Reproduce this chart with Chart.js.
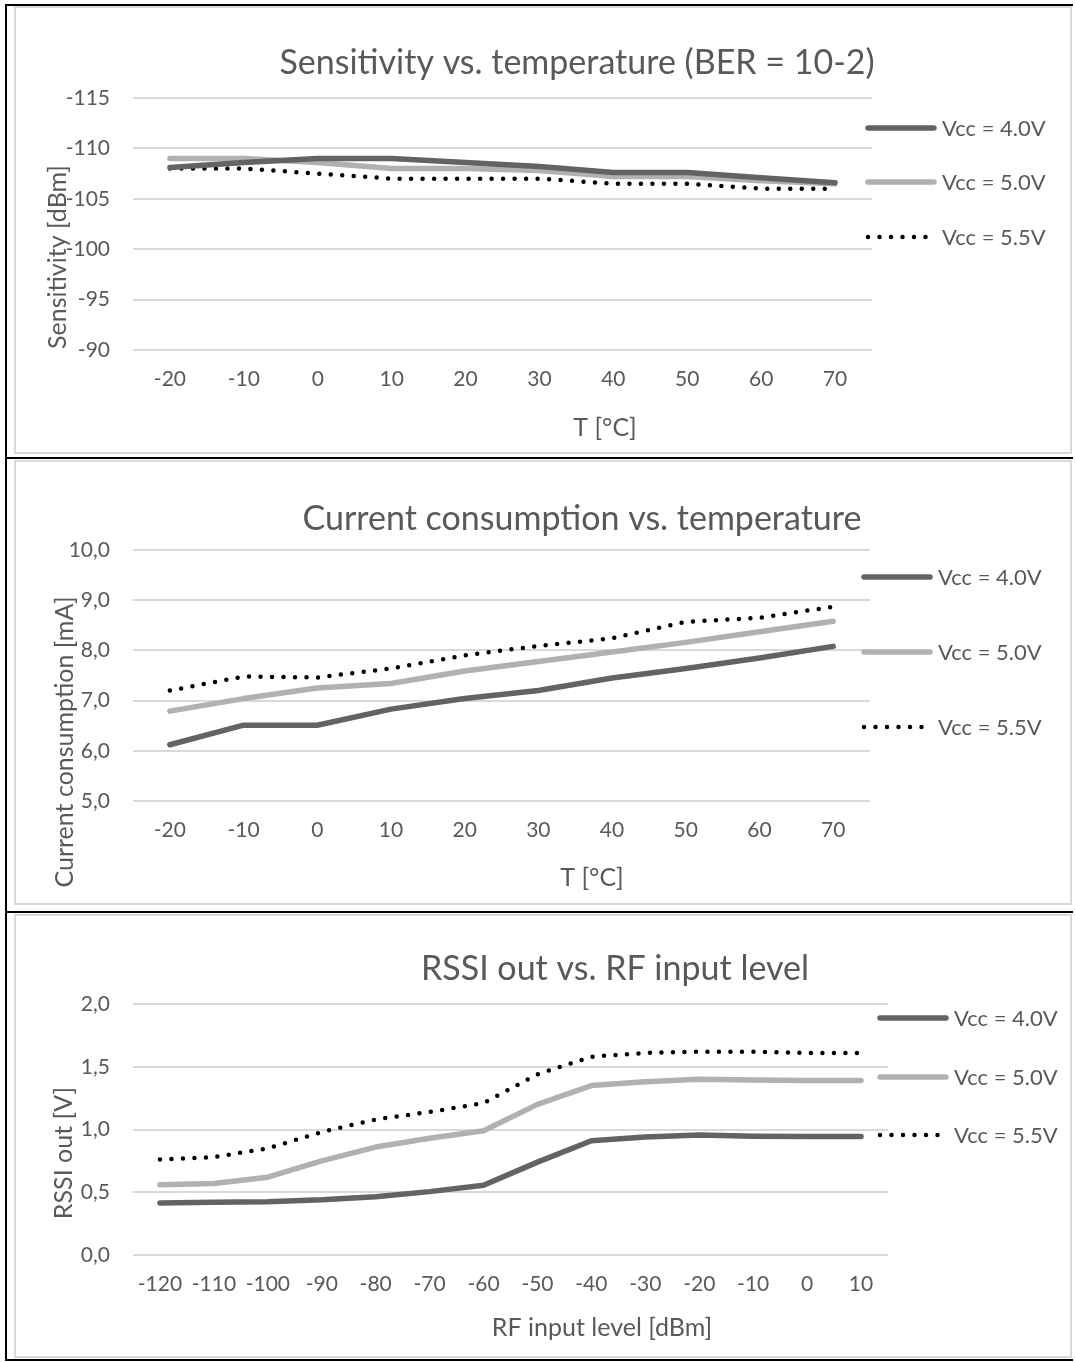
<!DOCTYPE html>
<html>
<head>
<meta charset="utf-8">
<script src="https://cdn.jsdelivr.net/npm/chart.js@4.4.1/dist/chart.umd.min.js"></script>
<style>
  body { margin: 0; background: #fff; }
  .rule { position: absolute; background: #000; }
  .panel { position: absolute; left: 14px; width: 1058px; border: 2px solid #d9d9d9; box-sizing: border-box; }
  canvas { position: absolute; left: 0; }
</style>
</head>
<body>
<div class="rule" style="left:5px;top:4px;width:2px;height:1357px"></div>
<div class="rule" style="left:5px;top:4px;width:1068px;height:2px"></div>
<div class="rule" style="left:5px;top:457px;width:1068px;height:2px"></div>
<div class="rule" style="left:5px;top:911px;width:1068px;height:2px"></div>
<div class="rule" style="left:5px;top:1359px;width:1068px;height:2px"></div>
<div class="panel" style="top:6px;height:448px"></div>
<div class="panel" style="top:460px;height:445px"></div>
<div class="panel" style="top:914px;height:444px"></div>
<canvas id="sensChart" width="1075" height="448" style="top:6px"></canvas>
<canvas id="currChart" width="1075" height="445" style="top:460px"></canvas>
<canvas id="rssiChart" width="1075" height="444" style="top:914px"></canvas>
<script>
// data
const tempLabels = [-20, -10, 0, 10, 20, 30, 40, 50, 60, 70];
const sensVcc40 = [-108.1, -108.6, -109.0, -109.0, -108.6, -108.2, -107.6, -107.6, -107.1, -106.6];
const sensVcc50 = [-109.0, -109.0, -108.6, -108.0, -108.0, -107.8, -107.2, -107.2, -106.8, -106.5];
const sensVcc55 = [-108.0, -108.0, -107.5, -107.0, -107.0, -107.0, -106.5, -106.5, -106.0, -106.0];

const currVcc40 = [6.12, 6.51, 6.51, 6.83, 7.04, 7.2, 7.45, 7.64, 7.85, 8.08];
const currVcc50 = [6.79, 7.04, 7.25, 7.34, 7.59, 7.78, 7.97, 8.16, 8.37, 8.58];
const currVcc55 = [7.2, 7.48, 7.46, 7.64, 7.9, 8.09, 8.24, 8.57, 8.65, 8.87];

const rfLabels = [-120, -110, -100, -90, -80, -70, -60, -50, -40, -30, -20, -10, 0, 10];
const rssiVcc40 = [0.415, 0.42, 0.425, 0.44, 0.465, 0.505, 0.555, 0.74, 0.91, 0.94, 0.957, 0.947, 0.945, 0.945];
const rssiVcc50 = [0.56, 0.57, 0.62, 0.75, 0.86, 0.93, 0.99, 1.2, 1.35, 1.38, 1.40, 1.395, 1.39, 1.39];
const rssiVcc55 = [0.76, 0.78, 0.85, 0.98, 1.08, 1.14, 1.21, 1.44, 1.58, 1.61, 1.62, 1.62, 1.61, 1.61];

const seriesNames = ['Vcc = 4.0V', 'Vcc = 5.0V', 'Vcc = 5.5V'];

const TEXT = '#595959';
const FONT = 'Lato';
const DARK = '#636363';
const LIGHT = '#b1b1b1';

// titles, axis titles and legend, drawn the way Excel placed them
const decor = {
  id: 'decor',
  afterDraw(chart, args, o) {
    const ctx = chart.ctx;
    ctx.save();
    ctx.fillStyle = TEXT;
    ctx.textBaseline = 'middle';
    ctx.textAlign = 'center';
    ctx.font = o.titleSize + 'px ' + FONT;
    ctx.fillText(o.title, o.titleX, o.titleY);
    ctx.font = '25px ' + FONT;
    ctx.fillText(o.xTitle, o.xTitleX, o.xTitleY);
    ctx.save();
    ctx.translate(o.yTitleX, o.yTitleY);
    ctx.rotate(-Math.PI / 2);
    ctx.fillText(o.yTitle, 0, 0);
    ctx.restore();

    ctx.font = '22px ' + FONT;
    ctx.textAlign = 'left';
    chart.data.datasets.forEach((ds, i) => {
      const y = o.legendY[i];
      ctx.strokeStyle = ds.borderColor;
      ctx.lineWidth = ds.borderWidth;
      ctx.lineCap = 'round';
      ctx.setLineDash(ds.borderDash || []);
      ctx.beginPath();
      ctx.moveTo(o.legendX + 2, y);
      ctx.lineTo(o.legendX + 68, y);
      ctx.stroke();
      ctx.setLineDash([]);
      ctx.fillText(ds.label, o.legendX + 76, y + 1);
    });
    ctx.restore();
  }
};

function makeSets(a, b, c) {
  return [
    { label: seriesNames[0], data: a, borderColor: DARK, borderWidth: 5.5 },
    { label: seriesNames[1], data: b, borderColor: LIGHT, borderWidth: 5.5 },
    { label: seriesNames[2], data: c, borderColor: '#000', borderWidth: 4.5, borderDash: [0, 11.5] }
  ];
}

function comma(v) {
  return v.toFixed(1).replace('.', ',');
}

function buildChart(id, labels, sets, y, lay, deco) {
  new Chart(document.getElementById(id), {
    type: 'line',
    data: { labels: labels, datasets: sets },
    options: {
      responsive: false,
      animation: false,
      layout: { padding: { top: lay.top, right: lay.right, left: 0, bottom: 0 } },
      elements: {
        line: { tension: 0, borderCapStyle: 'round', borderJoinStyle: 'round' },
        point: { radius: 0 }
      },
      scales: {
        x: {
          offset: true,
          grid: { display: false, drawTicks: false },
          border: { display: false },
          ticks: { color: TEXT, font: { family: FONT, size: 21 }, padding: 17, maxRotation: 0, autoSkip: false },
          afterFit(s) { s.height = lay.xHeight; }
        },
        y: {
          min: y.min, max: y.max, reverse: y.reverse,
          grid: { color: '#d9d9d9', lineWidth: 2, drawTicks: false },
          border: { display: false },
          ticks: { stepSize: y.step, color: TEXT, font: { family: FONT, size: 21 }, padding: 23, callback: y.fmt },
          afterFit(s) { s.width = 133; }
        }
      },
      plugins: {
        legend: { display: false },
        tooltip: { enabled: false },
        decor: deco
      }
    },
    plugins: [decor]
  });
}

buildChart('sensChart', tempLabels, makeSets(sensVcc40, sensVcc50, sensVcc55),
  { min: -115, max: -90, step: 5, reverse: true, fmt: v => String(v) },
  { top: 92, right: 203, xHeight: 104 },
  { title: 'Sensitivity vs. temperature (BER = 10-2)', titleSize: 34, titleX: 577, titleY: 57,
    xTitle: 'T [°C]', xTitleX: 605, xTitleY: 422,
    yTitle: 'Sensitivity [dBm]', yTitleX: 58, yTitleY: 251,
    legendX: 866, legendY: [122, 176, 231] });

buildChart('currChart', tempLabels, makeSets(currVcc40, currVcc50, currVcc55),
  { min: 5, max: 10, step: 1, reverse: false, fmt: v => comma(v) },
  { top: 90, right: 205, xHeight: 104 },
  { title: 'Current consumption vs. temperature', titleSize: 34, titleX: 582, titleY: 59,
    xTitle: 'T [°C]', xTitleX: 592, xTitleY: 418,
    yTitle: 'Current consumption [mA]', yTitleX: 65, yTitleY: 282,
    legendX: 862, legendY: [117, 192, 267] });

buildChart('rssiChart', rfLabels, makeSets(rssiVcc40, rssiVcc50, rssiVcc55),
  { min: 0, max: 2, step: 0.5, reverse: false, fmt: v => comma(v) },
  { top: 90, right: 187, xHeight: 103 },
  { title: 'RSSI out vs. RF input level', titleSize: 34, titleX: 615, titleY: 55,
    xTitle: 'RF input level [dBm]', xTitleX: 602, xTitleY: 414,
    yTitle: 'RSSI out [V]', yTitleX: 64, yTitleY: 239,
    legendX: 878, legendY: [104, 163, 221] });
</script>
</body>
</html>
